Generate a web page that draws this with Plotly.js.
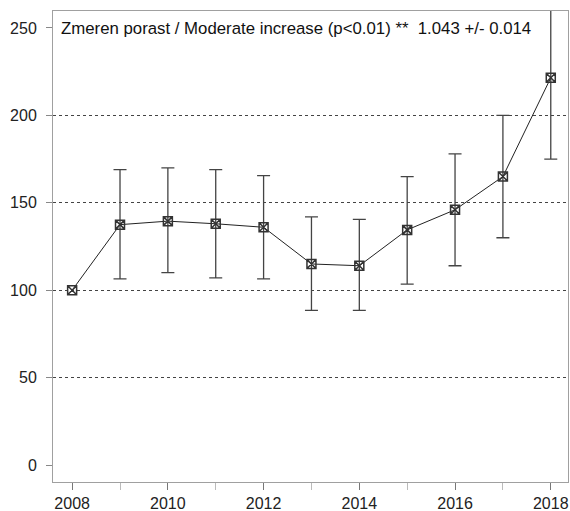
<!DOCTYPE html>
<html>
<head>
<meta charset="utf-8">
<script src="https://cdn.plot.ly/plotly-3.0.1.min.js"></script>
<style>
  html, body { margin: 0; padding: 0; background: #fff; }
  #chart { width: 570px; height: 511px; }
</style>
</head>
<body>
<div id="chart"></div>
<script>
// Index values by year with confidence bounds (2008 = 100 baseline)
const years = [2008, 2009, 2010, 2011, 2012, 2013, 2014, 2015, 2016, 2017, 2018];
const index = [100, 137.5, 139.5, 138, 136, 115, 114, 134.5, 146, 165, 221.5];
const upper = [null, 169, 170, 169, 165.5, 142, 140.5, 165, 178, 200, 275];
const lower = [null, 106.5, 110, 107, 106.5, 88.5, 88.5, 103.5, 114, 130, 175];

const xTicks = [2008, 2010, 2012, 2014, 2016, 2018];
const yTicks = [0, 50, 100, 150, 200, 250];
const gridLevels = [50, 100, 150, 200];

const trendLabel = 'Zmeren porast / Moderate increase (p<0.01) **  1.043 +/- 0.014';

const errPlus = years.map((_, i) => upper[i] == null ? NaN : upper[i] - index[i]);
const errMinus = years.map((_, i) => lower[i] == null ? NaN : index[i] - lower[i]);

const font = 'Liberation Sans, Arial, sans-serif';

const trace = {
  x: years,
  y: index,
  type: 'scatter',
  mode: 'lines+markers',
  line: { color: '#222', width: 1 },
  marker: { symbol: 'square-x-open', size: 9, color: '#333', line: { width: 1.5, color: '#333' } },
  error_y: {
    type: 'data',
    symmetric: false,
    array: errPlus,
    arrayminus: errMinus,
    color: '#444',
    thickness: 1.3,
    width: 6.5
  },
  cliponaxis: true,
  hoverinfo: 'x+y'
};

// invisible trace on a second y axis that only carries the dotted reference lines
const gridTrace = {
  x: [years[0]], y: [gridLevels[0]], yaxis: 'y2', type: 'scatter', mode: 'markers',
  marker: { opacity: 0 }, hoverinfo: 'skip', showlegend: false
};

const layout = {
  width: 570,
  height: 511,
  margin: { l: 53, r: 2, t: 11, b: 29 },
  paper_bgcolor: '#fff',
  plot_bgcolor: '#fff',
  showlegend: false,
  font: { family: font, size: 16, color: '#222' },
  xaxis: {
    range: [2007.6, 2018.36],
    tickvals: xTicks,
    ticktext: xTicks.map(String),
    ticks: 'outside',
    ticklen: 7,
    tickwidth: 1,
    tickcolor: '#777',
    minor: { dtick: 1, tick0: 2008, ticks: 'outside', ticklen: 7, tickcolor: '#bbb', showgrid: false },
    showgrid: false,
    zeroline: false,
    showline: true,
    linecolor: '#a0a0a0',
    linewidth: 1,
    mirror: true,
    tickfont: { family: font, size: 16, color: '#222' },
    ticklabelstandoff: 0
  },
  yaxis: {
    range: [-9.7, 259.7],
    tickvals: yTicks,
    ticks: 'outside',
    ticklen: 6,
    tickcolor: '#888',
    showgrid: false,
    zeroline: false,
    showline: true,
    linecolor: '#a0a0a0',
    linewidth: 1,
    mirror: true,
    tickfont: { family: font, size: 16, color: '#222' },
    ticklabelstandoff: 6
  },
  yaxis2: {
    overlaying: 'y',
    range: [-9.7, 259.7],
    tickvals: gridLevels,
    showticklabels: false,
    ticks: '',
    showgrid: true,
    gridcolor: '#444',
    gridwidth: 1,
    griddash: 'dot',
    zeroline: false,
    showline: false
  },
  annotations: [{
    xref: 'paper', yref: 'paper',
    x: 0.012, y: 0.962,
    xanchor: 'left', yanchor: 'middle',
    text: trendLabel,
    showarrow: false,
    font: { family: font, size: 16.8, color: '#111' }
  }]
};

Plotly.newPlot('chart', [gridTrace, trace], layout, { staticPlot: true, displayModeBar: false });
</script>
</body>
</html>
